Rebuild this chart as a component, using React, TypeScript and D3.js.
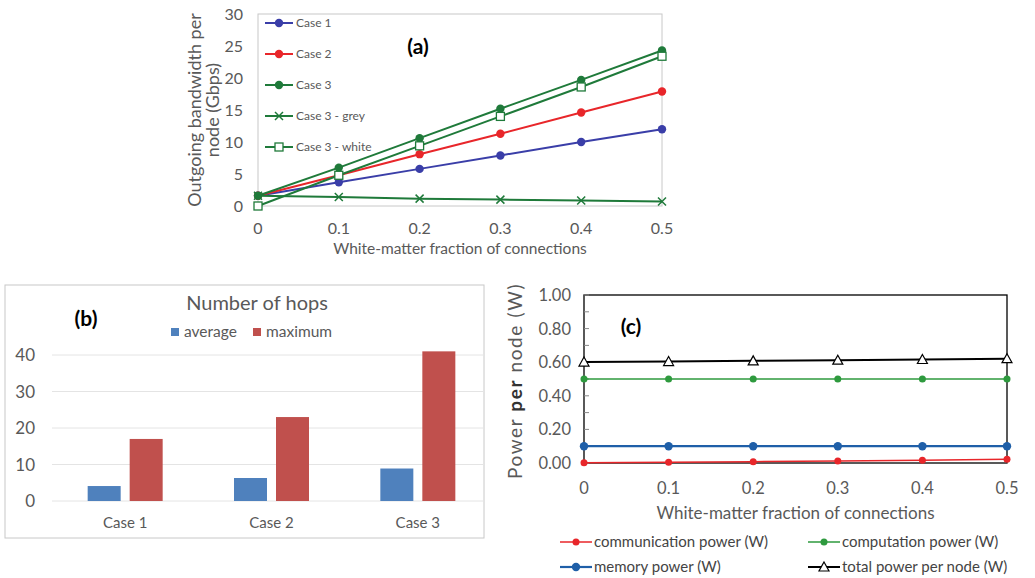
import { useEffect, useRef } from 'react'
import * as d3 from 'd3'

// shared x values for (a) and (c)
const whiteFractions = [0, 0.1, 0.2, 0.3, 0.4, 0.5]

// (a) outgoing bandwidth per node (Gbps)
const case1Bw = [1.6, 3.7, 5.8, 7.9, 10.0, 12.0]
const case2Bw = [1.6, 4.8, 8.1, 11.3, 14.6, 17.9]
const case3Bw = [1.6, 6.0, 10.6, 15.2, 19.7, 24.3]
const case3GreyBw = [1.6, 1.4, 1.15, 1.0, 0.85, 0.7]
const case3WhiteBw = [0, 4.8, 9.4, 14.0, 18.6, 23.4]
const bwTicks = [0, 5, 10, 15, 20, 25, 30]

// (b) number of hops
const hopCases = ['Case 1', 'Case 2', 'Case 3']
const hopsAverage = [4.1, 6.3, 8.9]
const hopsMaximum = [17, 23, 41]
const hopTicks = [0, 10, 20, 30, 40]

// (c) power per node (W)
const commPower = [0.001, 0.004, 0.008, 0.012, 0.016, 0.022]
const compPower = [0.5, 0.5, 0.5, 0.5, 0.5, 0.5]
const memPower = [0.1, 0.1, 0.1, 0.1, 0.1, 0.1]
const totalPower = [0.601, 0.604, 0.608, 0.612, 0.616, 0.621]
const powerTicks = [0, 0.2, 0.4, 0.6, 0.8, 1.0]

const FONT = 'Lato, "Open Sans", sans-serif'
const GREY_TEXT = '#595959'

export default function App() {
  const svgRef = useRef<SVGSVGElement>(null)

  useEffect(() => {
    if (!svgRef.current) return
    const svg = d3.select(svgRef.current)
    svg.selectAll('*').remove()
    svg.attr('font-family', FONT)

    svg.append('rect').attr('width', 1035).attr('height', 578).attr('fill', '#fff')

    // ---------- panel (a) ----------
    const ax = d3.scaleLinear().domain([0, 0.5]).range([258, 662])
    const ay = d3.scaleLinear().domain([0, 30]).range([206, 14])
    const a = svg.append('g')

    a.append('rect')
      .attr('x', ax(0)).attr('y', ay(30))
      .attr('width', ax(0.5) - ax(0)).attr('height', ay(0) - ay(30))
      .attr('fill', 'none').attr('stroke', '#c8c8c8').attr('stroke-width', 1)

    a.selectAll('.ytick').data(bwTicks).join('text')
      .attr('x', ax(0) - 15).attr('y', d => ay(d) + 6)
      .attr('text-anchor', 'end').attr('font-size', 16).attr('fill', GREY_TEXT)
      .text(d => d)

    a.selectAll('.xtick').data(whiteFractions).join('text')
      .attr('x', d => ax(d)).attr('y', 234)
      .attr('text-anchor', 'middle').attr('font-size', 16).attr('fill', GREY_TEXT)
      .text(d => (d === 0 ? '0' : d3.format('.1f')(d)))

    a.append('text')
      .attr('x', (ax(0) + ax(0.5)) / 2).attr('y', 254)
      .attr('text-anchor', 'middle').attr('font-size', 15.5).attr('fill', GREY_TEXT)
      .text('White-matter fraction of connections')

    const aTitle = a.append('text')
      .attr('transform', 'translate(201,110) rotate(-90)')
      .attr('text-anchor', 'middle').attr('font-size', 18).attr('fill', GREY_TEXT)
    aTitle.append('tspan').attr('x', 0).attr('dy', 0).text('Outgoing bandwidth per')
    aTitle.append('tspan').attr('x', 0).attr('dy', 18).text('node  (Gbps)')

    const aLine = d3.line<number>()
      .x((_d, i) => ax(whiteFractions[i]))
      .y(d => ay(d))

    type Marker = 'circle' | 'cross' | 'square'
    const aSeries: { name: string; values: number[]; color: string; marker: Marker }[] = [
      { name: 'Case 1', values: case1Bw, color: '#3a3ea8', marker: 'circle' },
      { name: 'Case 2', values: case2Bw, color: '#e8262a', marker: 'circle' },
      { name: 'Case 3', values: case3Bw, color: '#1f7a3a', marker: 'circle' },
      { name: 'Case 3 - grey', values: case3GreyBw, color: '#1f7a3a', marker: 'cross' },
      { name: 'Case 3 - white', values: case3WhiteBw, color: '#1f7a3a', marker: 'square' },
    ]

    const drawMarker = (g: d3.Selection<SVGGElement, unknown, null, undefined>, x: number, y: number, color: string, marker: Marker) => {
      if (marker === 'circle') {
        g.append('circle').attr('cx', x).attr('cy', y).attr('r', 4.2).attr('fill', color)
      } else if (marker === 'cross') {
        g.append('path')
          .attr('d', `M${x - 4},${y - 4}L${x + 4},${y + 4}M${x - 4},${y + 4}L${x + 4},${y - 4}`)
          .attr('stroke', color).attr('stroke-width', 1.5)
      } else {
        g.append('rect').attr('x', x - 4).attr('y', y - 4).attr('width', 8).attr('height', 8)
          .attr('fill', '#fff').attr('stroke', color).attr('stroke-width', 1.3)
      }
    }

    aSeries.forEach(s => {
      a.append('path').datum(s.values).attr('d', aLine)
        .attr('fill', 'none').attr('stroke', s.color).attr('stroke-width', 2)
      const mg = a.append('g')
      s.values.forEach((v, i) => drawMarker(mg, ax(whiteFractions[i]), ay(v), s.color, s.marker))
    })

    aSeries.forEach((s, i) => {
      const y = 23 + i * 31
      a.append('line').attr('x1', 265).attr('x2', 293).attr('y1', y).attr('y2', y)
        .attr('stroke', s.color).attr('stroke-width', 2)
      const mg = a.append('g')
      drawMarker(mg, 279, y, s.color, s.marker)
      a.append('text').attr('x', 296).attr('y', y + 4)
        .attr('font-size', 12).attr('fill', GREY_TEXT).text(s.name)
    })

    a.append('text').attr('x', 418).attr('y', 54)
      .attr('text-anchor', 'middle').attr('font-size', 21).attr('font-weight', 'bold')
      .attr('fill', '#000').text('(a)')

    // ---------- panel (b) ----------
    const b = svg.append('g')
    b.append('rect').attr('x', 5).attr('y', 285).attr('width', 479).attr('height', 253)
      .attr('fill', '#fff').attr('stroke', '#c8c8c8').attr('stroke-width', 1)

    const bx = d3.scaleBand<string>().domain(hopCases).range([52, 491])
    const by = d3.scaleLinear().domain([0, 40]).range([501, 355])

    b.selectAll('.grid').data(hopTicks).join('line')
      .attr('x1', 52).attr('x2', 484).attr('y1', d => by(d)).attr('y2', d => by(d))
      .attr('stroke', '#e4e4e4').attr('stroke-width', 1)

    b.selectAll('.ytick').data(hopTicks).join('text')
      .attr('x', 35).attr('y', d => by(d) + 6)
      .attr('text-anchor', 'end').attr('font-size', 17).attr('fill', GREY_TEXT)
      .text(d => d)

    const barW = 33
    const gap = 9
    hopCases.forEach((c, i) => {
      const cx = bx(c)! + bx.bandwidth() / 2
      b.append('rect').attr('x', cx - gap / 2 - barW).attr('width', barW)
        .attr('y', by(hopsAverage[i])).attr('height', by(0) - by(hopsAverage[i]))
        .attr('fill', '#4f81bd')
      b.append('rect').attr('x', cx + gap / 2).attr('width', barW)
        .attr('y', by(hopsMaximum[i])).attr('height', by(0) - by(hopsMaximum[i]))
        .attr('fill', '#c0504d')
      b.append('text').attr('x', cx).attr('y', 528)
        .attr('text-anchor', 'middle').attr('font-size', 15).attr('fill', GREY_TEXT).text(c)
    })

    b.append('text').attr('x', 257).attr('y', 310)
      .attr('text-anchor', 'middle').attr('font-size', 20).attr('fill', GREY_TEXT)
      .text('Number of hops')

    const bLegend = [
      { name: 'average', color: '#4f81bd', x: 171 },
      { name: 'maximum', color: '#c0504d', x: 253 },
    ]
    bLegend.forEach(l => {
      b.append('rect').attr('x', l.x).attr('y', 328).attr('width', 8).attr('height', 8).attr('fill', l.color)
      b.append('text').attr('x', l.x + 13).attr('y', 337)
        .attr('font-size', 15.5).attr('fill', GREY_TEXT).text(l.name)
    })

    b.append('text').attr('x', 86).attr('y', 326)
      .attr('text-anchor', 'middle').attr('font-size', 21).attr('font-weight', 'bold')
      .attr('fill', '#000').text('(b)')

    // ---------- panel (c) ----------
    const c = svg.append('g')
    const cx = d3.scaleLinear().domain([0, 0.5]).range([584, 1007])
    const cy = d3.scaleLinear().domain([0, 1]).range([463, 295])

    c.append('rect').attr('x', cx(0)).attr('y', cy(1))
      .attr('width', cx(0.5) - cx(0)).attr('height', cy(0) - cy(1))
      .attr('fill', 'none').attr('stroke', '#000').attr('stroke-width', 1.3)

    c.selectAll('.minor').data(d3.range(0, 1.001, 0.1)).join('line')
      .attr('x1', cx(0)).attr('x2', cx(0) + 5)
      .attr('y1', d => cy(d)).attr('y2', d => cy(d))
      .attr('stroke', '#888').attr('stroke-width', 1)

    c.selectAll('.ytick').data(powerTicks).join('text')
      .attr('x', cx(0) - 13).attr('y', d => cy(d) + 6)
      .attr('text-anchor', 'end').attr('font-size', 16.5).attr('fill', GREY_TEXT)
      .text(d => d3.format('.2f')(d))

    c.selectAll('.xtick').data(whiteFractions).join('text')
      .attr('x', d => cx(d)).attr('y', 494)
      .attr('text-anchor', 'middle').attr('font-size', 16.5).attr('fill', GREY_TEXT)
      .text(d => (d === 0 ? '0' : d3.format('.1f')(d)))

    c.append('text').attr('x', (cx(0) + cx(0.5)) / 2).attr('y', 519)
      .attr('text-anchor', 'middle').attr('font-size', 17).attr('fill', GREY_TEXT)
      .text('White-matter fraction of connections')

    const cTitle = c.append('text')
      .attr('transform', `translate(522,${(cy(0) + cy(1)) / 2 + 2}) rotate(-90)`)
      .attr('text-anchor', 'middle').attr('font-size', 19).attr('letter-spacing', 1.6)
      .attr('fill', GREY_TEXT)
    cTitle.append('tspan').text('Power ')
    cTitle.append('tspan').attr('font-weight', 'bold').attr('fill', '#333').text('per')
    cTitle.append('tspan').text(' node (W)')

    const cLine = d3.line<number>()
      .x((_d, i) => cx(whiteFractions[i]))
      .y(d => cy(d))

    type CMarker = 'dot' | 'bigdot' | 'triangle'
    const cSeries: { name: string; values: number[]; color: string; marker: CMarker; width: number }[] = [
      { name: 'communication power (W)', values: commPower, color: '#e8262a', marker: 'dot', width: 1.5 },
      { name: 'computation power (W)', values: compPower, color: '#2e9a3e', marker: 'dot', width: 1.5 },
      { name: 'memory power (W)', values: memPower, color: '#1f5fa8', marker: 'bigdot', width: 2.2 },
      { name: 'total power per node (W)', values: totalPower, color: '#000', marker: 'triangle', width: 2 },
    ]

    const drawCMarker = (x: number, y: number, s: typeof cSeries[number]) => {
      if (s.marker === 'triangle') {
        c.append('path')
          .attr('d', `M${x},${y - 5}L${x + 5},${y + 4}L${x - 5},${y + 4}Z`)
          .attr('fill', '#fff').attr('stroke', '#000').attr('stroke-width', 1.2)
      } else {
        c.append('circle').attr('cx', x).attr('cy', y)
          .attr('r', s.marker === 'bigdot' ? 4.2 : 3.5).attr('fill', s.color)
      }
    }

    cSeries.forEach(s => {
      c.append('path').datum(s.values).attr('d', cLine)
        .attr('fill', 'none').attr('stroke', s.color).attr('stroke-width', s.width)
      s.values.forEach((v, i) => drawCMarker(cx(whiteFractions[i]), cy(v), s))
    })

    cSeries.forEach((s, i) => {
      const lx = i % 2 === 0 ? 560 : 808
      const ly = i < 2 ? 542 : 567
      c.append('line').attr('x1', lx).attr('x2', lx + 32).attr('y1', ly).attr('y2', ly)
        .attr('stroke', s.color).attr('stroke-width', s.width)
      drawCMarker(lx + 16, ly, s)
      c.append('text').attr('x', lx + 34).attr('y', ly + 5)
        .attr('font-size', 15).attr('fill', '#444').text(s.name)
    })

    c.append('text').attr('x', 631).attr('y', 334)
      .attr('text-anchor', 'middle').attr('font-size', 21).attr('font-weight', 'bold')
      .attr('fill', '#000').text('(c)')
  }, [])

  return (
    <svg
      ref={svgRef}
      width={1035}
      height={578}
      style={{ position: 'absolute', left: 0, top: 0 }}
    />
  )
}
